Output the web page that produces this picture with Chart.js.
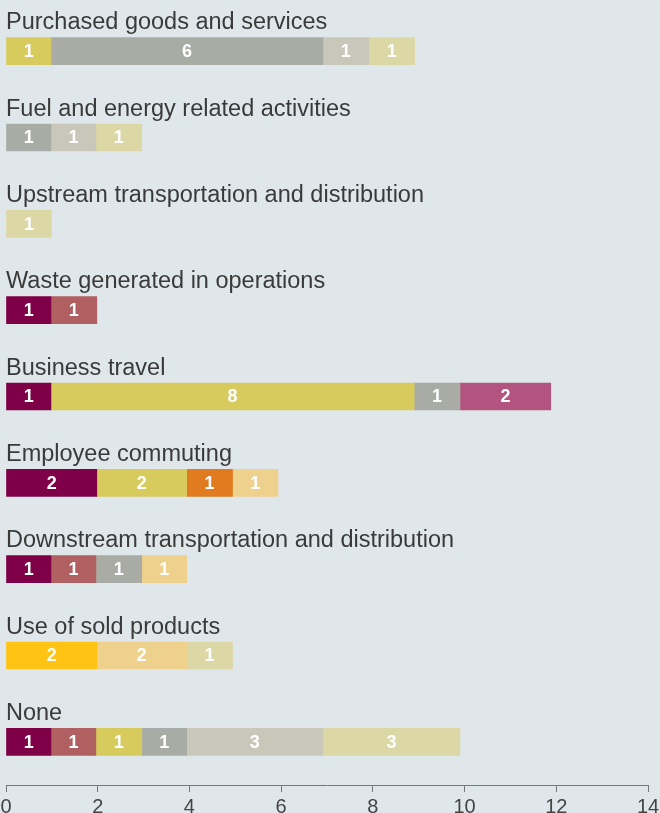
<!DOCTYPE html>
<html>
<head>
<meta charset="utf-8">
<script src="https://cdn.jsdelivr.net/npm/chart.js@4/dist/chart.umd.min.js"></script>
<style>
  html, body { margin: 0; padding: 0; background: #e0e7ea; }
  #wrap { width: 660px; height: 813px; }
</style>
</head>
<body>
<div id="wrap"><canvas id="scopeChart"></canvas></div>
<script>
// categories, top to bottom
const categories = [
    'Purchased goods and services',
    'Fuel and energy related activities',
    'Upstream transportation and distribution',
    'Waste generated in operations',
    'Business travel',
    'Employee commuting',
    'Downstream transportation and distribution',
    'Use of sold products',
    'None'
];

// one series per colour (null = no segment)
const maroon  = [null, null, null, 0.98, 0.98, 1.98, 0.98, null, 0.98];
const rose    = [null, null, null, 1.0,  null, null, 0.98, null, 0.98];
const golden  = [null, null, null, null, null, null, null, 1.98, null];
const olive   = [0.98, null, null, null, 7.92, 1.96, null, null, 1.0];
const orange  = [null, null, null, null, null, 1.0,  null, null, null];
const grey    = [5.93, 0.98, null, null, 1.0,  null, 1.0,  null, 0.98];
const beige   = [1.0,  0.98, null, null, null, null, null, null, 2.97];
const magenta = [null, null, null, null, 1.98, null, null, null, null];
const peach   = [null, null, null, null, null, 0.99, 0.98, 1.96, null];
const pale    = [1.0,  1.0,  0.99, null, null, null, null, 1.0,  2.99];

const xTicks = [0, 2, 4, 6, 8, 10, 12, 14];

const series = [
    { name: 'Maroon',  data: maroon,  color: '#7e0046' },
    { name: 'Rose',    data: rose,    color: '#b06060' },
    { name: 'Golden',  data: golden,  color: '#fec313' },
    { name: 'Olive',   data: olive,   color: '#d8cb5e' },
    { name: 'Orange',  data: orange,  color: '#e07b20' },
    { name: 'Grey',    data: grey,    color: '#a9aca5' },
    { name: 'Beige',   data: beige,   color: '#c8c7b9' },
    { name: 'Magenta', data: magenta, color: '#b3537f' },
    { name: 'Peach',   data: peach,   color: '#efd18e' },
    { name: 'Pale',    data: pale,    color: '#dbd8a6' }
];

// draws category names above bars and the rounded value inside each segment
const barText = {
    id: 'barText',
    afterDatasetsDraw(chart) {
        const ctx = chart.ctx;
        const yScale = chart.scales.y;
        ctx.save();

        ctx.font = '23.5px "Liberation Sans", Arial, sans-serif';
        ctx.fillStyle = '#3a3a3a';
        ctx.textAlign = 'left';
        ctx.textBaseline = 'alphabetic';
        categories.forEach((cat, i) => {
            const y = yScale.getPixelForValue(i);
            ctx.fillText(cat, chart.chartArea.left, y - 13.5 - 8.5);
        });

        ctx.font = 'bold 18px "Liberation Sans", Arial, sans-serif';
        ctx.fillStyle = '#ffffff';
        ctx.textAlign = 'center';
        ctx.textBaseline = 'middle';
        chart.data.datasets.forEach((ds, d) => {
            const meta = chart.getDatasetMeta(d);
            meta.data.forEach((bar, i) => {
                const v = ds.data[i];
                if (!v) return;
                ctx.fillText(Math.round(v), (bar.x + bar.base) / 2, bar.y + 1);
            });
        });
        ctx.restore();
    }
};

new Chart(document.getElementById('scopeChart'), {
    type: 'bar',
    data: {
        labels: categories,
        datasets: series.map(s => ({
            label: s.name,
            data: s.data,
            backgroundColor: s.color,
            borderWidth: 0,
            barThickness: 27
        }))
    },
    options: {
        indexAxis: 'y',
        responsive: true,
        maintainAspectRatio: false,
        animation: false,
        skipNull: true,
        layout: { padding: { left: 0, right: 0, top: 8, bottom: 0 } },
        plugins: {
            legend: { display: false },
            tooltip: { enabled: false }
        },
        scales: {
            y: {
                stacked: true,
                display: false
            },
            x: {
                stacked: true,
                min: 0,
                max: 14,
                afterBuildTicks: (scale) => {
                    scale.ticks = xTicks.map(v => ({ value: v }));
                },
                afterFit: (scale) => {
                    scale.height = 28;
                    scale.paddingLeft = 6;
                    scale.paddingRight = 12;
                },
                grid: {
                    drawOnChartArea: false,
                    drawTicks: true,
                    tickLength: 7,
                    color: '#777777'
                },
                border: { display: true, color: '#777777', width: 1 },
                ticks: {
                    padding: 3,
                    color: '#444444',
                    font: { family: '"Liberation Sans", Arial, sans-serif', size: 20 },
                    maxRotation: 0
                }
            }
        }
    },
    plugins: [barText]
});
</script>
</body>
</html>
